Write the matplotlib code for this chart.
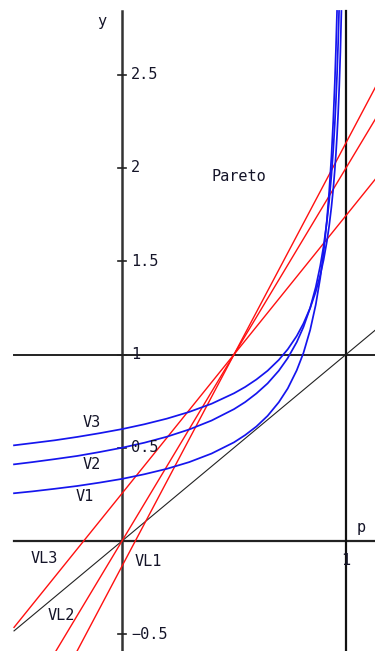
import matplotlib
matplotlib.use("Agg")
import matplotlib.pyplot as plt

# Shared p positions for the curve samples
p_grid = [-0.482, -0.4, -0.3, -0.2, -0.1, 0.0, 0.1, 0.2, 0.3, 0.4, 0.5, 0.55, 0.6, 0.65,
          0.7, 0.74, 0.78, 0.81, 0.84, 0.865, 0.885, 0.9, 0.915, 0.925, 0.935, 0.943,
          0.95, 0.955]

# Curves V1..V3 sampled on p_grid, plus their top end points
v1_y = [0.256, 0.266, 0.280, 0.295, 0.313, 0.333, 0.358, 0.387, 0.423, 0.469, 0.529,
        0.568, 0.614, 0.671, 0.744, 0.818, 0.915, 1.008, 1.131, 1.267, 1.410, 1.547,
        1.724, 1.875, 2.062, 2.251, 2.456, 2.635]
v1_end = ([0.96], [2.842])

v2_y = [0.411, 0.423, 0.439, 0.456, 0.477, 0.500, 0.527, 0.559, 0.598, 0.646, 0.707,
        0.745, 0.791, 0.845, 0.913, 0.981, 1.066, 1.147, 1.250, 1.361, 1.475, 1.581,
        1.715, 1.826, 1.961, 2.094, 2.236, 2.357]
v2_end = ([0.96, 0.965, 0.969], [2.500, 2.673, 2.842])

v3_y = [0.513, 0.525, 0.540, 0.558, 0.578, 0.600, 0.626, 0.656, 0.692, 0.736, 0.792,
        0.826, 0.866, 0.913, 0.971, 1.028, 1.099, 1.166, 1.249, 1.337, 1.425, 1.507,
        1.608, 1.691, 1.791, 1.887, 1.989, 2.074]
v3_end = ([0.96, 0.965, 0.97, 0.975, 0.9795], [2.175, 2.294, 2.440, 2.624, 2.842])

# Straight lines VL1..VL3 through (0.5, 1): slopes and intercepts
vl_names = ["VL1", "VL2", "VL3"]
vl_slope = [2.0, 2.27, 1.49]
vl_intercept = [0.0, -0.135, 0.255]

# Plot domain
p_min = -0.482
y_top = 2.842

y_ticks = [2.5, 2.0, 1.5, 1.0, 0.5, -0.5]
y_tick_labels = ["2.5", "2", "1.5", "1", "0.5", "\u22120.5"]
x_ticks = [1.0]
x_tick_labels = ["1"]

curve_labels = ["V1", "V2", "V3"]
curve_label_pos = [(-0.165, 0.236), (-0.135, 0.408), (-0.135, 0.633)]
vl_label_pos = [(0.117, -0.112), (-0.272, -0.402), (-0.345, -0.096)]

fig = plt.figure(figsize=(3.75, 6.51), dpi=100)
ax = fig.add_axes([0, 0, 1, 1])
ax.set_xlim(-0.5446, 1.1295)
ax.set_ylim(-0.5898, 2.9008)
ax.axis("off")

font = dict(family="DejaVu Sans Mono", fontsize=11, color="#141428")

# Reference lines
ax.plot([p_min, 1.2], [0, 0], color="#222222", lw=1.6, zorder=1)
ax.plot([p_min, 1.2], [1, 1], color="#222222", lw=1.4, zorder=1)
ax.plot([0, 0], [-0.7, y_top], color="#333333", lw=1.8, zorder=1)
ax.plot([1, 1], [-0.7, y_top], color="#111111", lw=1.6, zorder=1)
ax.plot([p_min, 1.2], [p_min, 1.2], color="#222222", lw=0.8, zorder=1)

# Tick marks
for t in y_ticks:
    ax.plot([-0.018, 0.018], [t, t], color="#222222", lw=1.2, zorder=1)

# Red lines
for s, b in zip(vl_slope, vl_intercept):
    ax.plot([p_min, 1.2], [b + s * p_min, b + s * 1.2], color="#ff1010", lw=1.0, zorder=2)

# Blue curves
for ys, (ep, ey) in [(v1_y, v1_end), (v2_y, v2_end), (v3_y, v3_end)]:
    ax.plot(p_grid + ep, ys + ey, color="#1515ee", lw=1.25, zorder=3,
            solid_joinstyle="round")

# Axis text
for t, lab in zip(y_ticks, y_tick_labels):
    ax.text(0.04, t, lab, ha="left", va="center", **font)
for t, lab in zip(x_ticks, x_tick_labels):
    ax.text(t, -0.102, lab, ha="center", va="center", **font)
ax.text(-0.09, 2.783, "y", ha="center", va="center", **font)
ax.text(1.067, 0.075, "p", ha="center", va="center", **font)

for lab, (x, y) in zip(curve_labels, curve_label_pos):
    ax.text(x, y, lab, ha="center", va="center", **font)
for lab, (x, y) in zip(vl_names, vl_label_pos):
    ax.text(x, y, lab, ha="center", va="center", **font)
ax.text(0.522, 1.957, "Pareto", ha="center", va="center", **font)

fig.savefig("out.png", dpi=100)
